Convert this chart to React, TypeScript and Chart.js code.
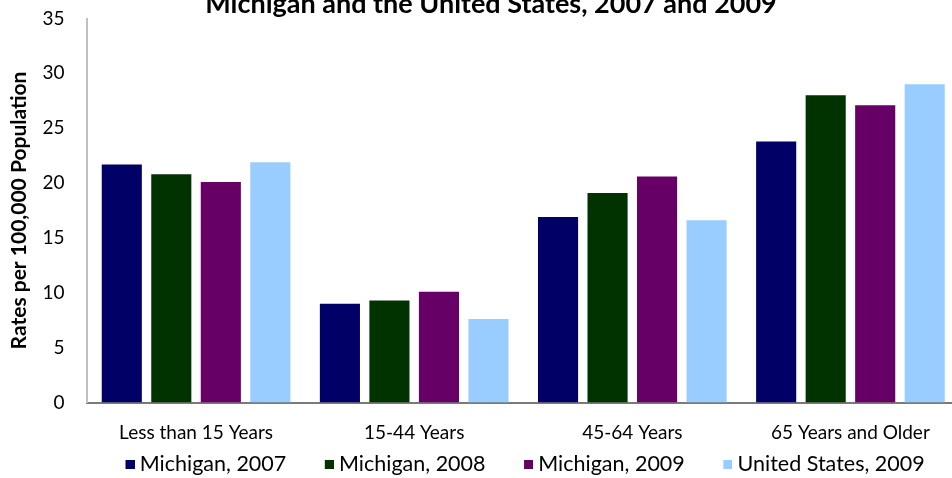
import React, { useEffect, useRef } from 'react';
import { Chart, registerables } from 'chart.js';

Chart.register(...registerables);

const categories = ['Less than 15 Years', '15-44 Years', '45-64 Years', '65 Years and Older'];
const seriesLabels = ['Michigan, 2007', 'Michigan, 2008', 'Michigan, 2009', 'United States, 2009'];
const michigan2007 = [21.7, 9.0, 16.9, 23.8];
const michigan2008 = [20.8, 9.3, 19.1, 28.0];
const michigan2009 = [20.1, 10.1, 20.6, 27.1];
const unitedStates2009 = [21.9, 7.6, 16.6, 29.0];
const yTickValues = [0, 5, 10, 15, 20, 25, 30, 35];
const chartTitle = 'Michigan and the United States, 2007 and 2009';
const yAxisTitle = 'Rates per 100,000 Population';

const seriesColors = ['#000066', '#003300', '#660066', '#99CCFF'];

const CANVAS_W = 982;
const CANVAS_H = 485;
const LEGEND_BOX = 9;
const LEGEND_SLOT = 32;
const LEGEND_FONT = 21.5;

function makeLegendSwatch(color: string): HTMLCanvasElement {
  const c = document.createElement('canvas');
  c.width = Math.round(LEGEND_SLOT + LEGEND_FONT / 2);
  c.height = LEGEND_BOX;
  const g = c.getContext('2d');
  if (g) {
    g.fillStyle = color;
    g.fillRect(c.width - LEGEND_BOX, 0, LEGEND_BOX, LEGEND_BOX);
  }
  return c;
}

export default function App() {
  const canvasRef = useRef<HTMLCanvasElement | null>(null);

  useEffect(() => {
    if (!canvasRef.current) return;
    const seriesData = [michigan2007, michigan2008, michigan2009, unitedStates2009];
    const swatches = seriesColors.map(makeLegendSwatch);
    const chart = new Chart(canvasRef.current, {
      type: 'bar',
      data: {
        labels: categories,
        datasets: seriesData.map((d, i) => ({
          label: seriesLabels[i],
          data: d,
          backgroundColor: seriesColors[i],
          borderWidth: 0,
          categoryPercentage: 0.908,
          barPercentage: 0.81,
        })),
      },
      options: {
        responsive: false,
        devicePixelRatio: 1,
        animation: false,
        layout: { padding: { top: 0, left: 22.5, right: 22.5, bottom: 0 } },
        plugins: {
          title: {
            display: true,
            text: chartTitle,
            color: '#000',
            font: { family: 'Lato', size: 27, weight: 'bold', lineHeight: 1.25 },
            padding: { top: -12.9, bottom: -2.35 },
          },
          legend: {
            position: 'bottom',
            fullSize: false,
            align: 'start',
            labels: {
              usePointStyle: true,
              pointStyleWidth: LEGEND_SLOT,
              boxWidth: LEGEND_BOX,
              boxHeight: LEGEND_BOX,
              padding: 10,
              color: '#000',
              font: { family: 'Lato', size: LEGEND_FONT },
              generateLabels: (ch: any) =>
                Chart.defaults.plugins.legend.labels
                  .generateLabels(ch)
                  .map((item: any, i: number) => ({ ...item, pointStyle: swatches[i], lineWidth: 0 })),
            },
          },
          tooltip: { enabled: false },
        },
        scales: {
          x: {
            offset: true,
            grid: { display: false, drawTicks: false },
            border: { display: true, color: '#7a7a7a', width: 2 },
            ticks: { color: '#000', padding: 19, font: { family: 'Lato', size: 19 }, maxRotation: 0 },
            afterFit: (s: any) => { s.height = 41; },
          },
          y: {
            min: 0,
            max: 35,
            grid: { display: false, drawTicks: true, tickLength: 22.5 },
            border: { display: true, color: '#c0c0c0', width: 2 },
            ticks: { color: '#000', padding: 0, font: { family: 'Lato', size: 19 } },
            afterBuildTicks: (s: any) => { s.ticks = yTickValues.map((v) => ({ value: v })); },
            afterFit: (s: any) => { s.width = 64.5; },
            title: {
              display: true,
              text: yAxisTitle,
              color: '#000',
              font: { family: 'Lato', size: 21, weight: 'bold', lineHeight: 1.2 },
              padding: { top: -16.1, bottom: 0 },
            },
          },
        },
      },
    });
    return () => chart.destroy();
  }, []);

  return (
    <div style={{ position: 'absolute', left: 0, top: 0, width: 952, height: 478, overflow: 'hidden', background: '#fff' }}>
      <canvas ref={canvasRef} width={CANVAS_W} height={CANVAS_H} style={{ display: 'block', width: CANVAS_W, height: CANVAS_H }} />
    </div>
  );
}
